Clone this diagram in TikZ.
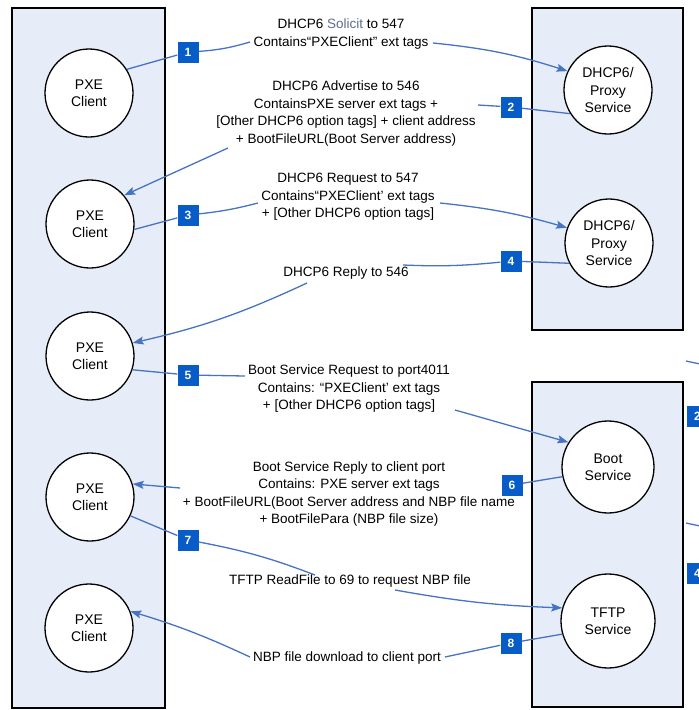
\documentclass[tikz,border=0pt]{standalone}
\usepackage{fontspec}
\setmainfont{Liberation Sans}
\usetikzlibrary{arrows.meta}
\definecolor{panelblue}{RGB}{231,237,248}
\definecolor{linkblue}{RGB}{70,115,195}
\definecolor{tagblue}{RGB}{8,92,200}
\definecolor{solicitgray}{RGB}{95,110,135}
\tikzset{
  panel/.style={draw, line width=1.3pt, fill=panelblue},
  agent/.style={circle, draw, line width=1.3pt, fill=white, minimum size=88pt,
    inner sep=0pt, align=center, font=\fontsize{14}{17.5}\selectfont},
  tagbox/.style={fill=tagblue, text=white, minimum size=21pt, inner sep=0pt,
    font=\bfseries\fontsize{12}{12}\selectfont},
  msgtext/.style={align=center, inner sep=0pt, font=\fontsize{13.5}{17.5}\selectfont},
  msgline/.style={draw=linkblue, line width=1.3pt},
  msgarrow/.style={msgline, -{Stealth[length=11pt,width=8pt,inset=2pt]}}
}
\begin{document}
\begin{tikzpicture}[x=1pt, y=-1pt]
  \useasboundingbox (0,0) rectangle (699,710);
  % hosts
  \draw[panel] (12,8) rectangle (165,708);
  \draw[panel] (532,8) rectangle (683,330);
  \draw[panel] (532,382) rectangle (683,707);

  % client side
  \node[agent] (pxe1) at (89,93) {PXE\\Client};
  \node[agent] (pxe2) at (90,224) {PXE\\Client};
  \node[agent] (pxe3) at (90,356) {PXE\\Client};
  \node[agent] (pxe4) at (90,497) {PXE\\Client};
  \node[agent] (pxe5) at (89,628) {PXE\\Client};

  % server side
  \node[agent] (proxy1) at (608,90) {DHCP6/\\Proxy\\Service};
  \node[agent] (proxy2) at (609,243) {DHCP6/\\Proxy\\Service};
  \node[agent, minimum size=92pt] (boot) at (608,467) {Boot\\Service};
  \node[agent, minimum size=94pt] (tftp) at (608,621) {TFTP\\Service};

  % messages
  \node[msgtext] (solicit) at (341,34)
    {DHCP6 \textcolor{solicitgray}{Solicit} to 547\\Contains“PXEClient” ext tags};
  \node[msgtext] (advertise) at (346,113.5)
    {DHCP6 Advertise to 546\\ContainsPXE server ext tags +\\
     {[}Other DHCP6 option tags] + client address\\+ BootFileURL(Boot Server address)};
  \node[msgtext] (request) at (348,197)
    {DHCP6 Request to 547\\Contains“PXEClient’ ext tags\\+ [Other DHCP6 option tags]};
  \node[msgtext] (reply) at (346,273) {DHCP6 Reply to 546};
  \node[msgtext] (bootreq) at (349,389)
    {Boot Service Request to port4011\\Contains: “PXEClient’ ext tags\\+ [Other DHCP6 option tags]};
  \node[msgtext] (bootrep) at (349,494)
    {Boot Service Reply to client port\\Contains: PXE server ext tags\\
     + BootFileURL(Boot Server address and NBP file name\\+ BootFilePara (NBP file size)};
  \node[msgtext] (readfile) at (350,581) {TFTP ReadFile to 69 to request NBP file};
  \node[msgtext] (download) at (347,658) {NBP file download to client port};

  % step numbers
  \node[tagbox] (s1) at (188,52) {1};
  \node[tagbox] (s2) at (511,107) {2};
  \node[tagbox] (s3) at (188,215) {3};
  \node[tagbox] (s4) at (511,261) {4};
  \node[tagbox] (s5) at (188,375) {5};
  \node[tagbox] (s6) at (512,485) {6};
  \node[tagbox] (s7) at (188,540) {7};
  \node[tagbox] (s8) at (511,643) {8};

  % line ends beside the texts
  \coordinate (m1a) at (250,42);  \coordinate (m1b) at (433,43);
  \coordinate (m2a) at (478,105); \coordinate (m2b) at (228,148);
  \coordinate (m3a) at (258,203); \coordinate (m3b) at (440,203);
  \coordinate (m4a) at (403,265); \coordinate (m4b) at (307,283);
  \coordinate (m5a) at (245,376); \coordinate (m5b) at (455,410);
  \coordinate (m6b) at (180,488);
  \coordinate (m7a) at (315,575); \coordinate (m7b) at (395,590);
  \coordinate (m8a) at (445,657); \coordinate (m8b) at (250,657);

  % 1 solicit
  \draw[msgline] (pxe1.32) -- (s1);
  \draw[msgline] (s1) to[bend right=6] (m1a);
  \draw[msgarrow] (m1b) to[bend left=6] (proxy1.155);
  % 2 advertise
  \draw[msgline] (proxy1.212) -- (s2);
  \draw[msgline] (s2) -- (m2a);
  \draw[msgarrow] (m2b) -- (pxe2.40);
  % 3 request
  \draw[msgline] (pxe2.-7) -- (s3);
  \draw[msgline] (s3) to[bend right=4] (m3a);
  \draw[msgarrow] (m3b) to[bend left=5] (proxy2.160);
  % 4 reply
  \draw[msgline] (proxy2.207) -- (s4);
  \draw[msgline] (s4) to[bend left=4] (m4a);
  \draw[msgarrow] (m4b) to[bend left=6] (pxe3.17);
  % 5 boot request
  \draw[msgline] (pxe3.-18) -- (s5);
  \draw[msgline] (s5) -- (m5a);
  \draw[msgarrow] (m5b) -- (boot.148);
  % 6 boot reply
  \draw[msgline] (boot.192) -- (s6);
  \draw[msgarrow] (m6b) -- (pxe4.17);
  % 7 read file
  \draw[msgline] (pxe4.-25) -- (s7);
  \draw[msgline] (s7) to[bend left=5] (m7a);
  \draw[msgarrow] (m7b) to[bend right=4] (tftp.164);
  % 8 download
  \draw[msgline] (tftp.196) -- (s8);
  \draw[msgline] (s8) -- (m8a);
  \draw[msgarrow] (m8b) to[bend right=4] (pxe5.22);

  % cut-off part of the next figure
  \node[tagbox] (edge2) at (697.5,416) {2};
  \node[tagbox] (edge4) at (697.5,573) {4};
  \coordinate (edge2a) at (686,361); \coordinate (edge2b) at (700,364);
  \coordinate (edge4a) at (686,523); \coordinate (edge4b) at (700,526);
  \draw[msgline] (edge2a) -- (edge2b);
  \draw[msgline] (edge4a) -- (edge4b);
\end{tikzpicture}
\end{document}
